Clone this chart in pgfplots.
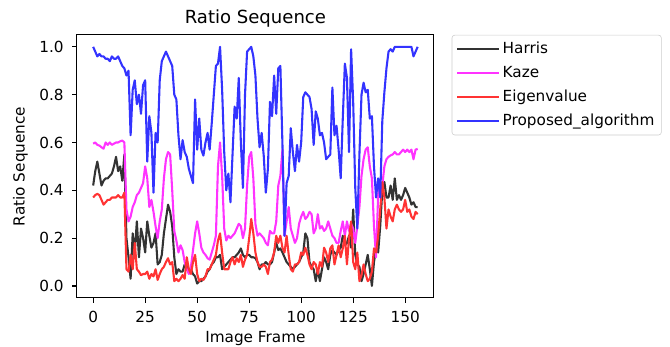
\documentclass[border=0pt]{standalone}
\usepackage{fontspec}
\setmainfont{DejaVu Sans}
\usepackage{pgfplots}
\usepackage{pgfplotstable}
\pgfplotsset{compat=1.18}
\definecolor{mplblack}{RGB}{51,51,51}
\definecolor{mplmag}{RGB}{255,51,255}
\definecolor{mplred}{RGB}{255,51,51}
\definecolor{mplblue}{RGB}{51,51,255}
\pgfplotstableread{
f h k e p
0 0.42 0.595 0.37 1.00
1 0.48 0.60 0.38 0.98
2 0.52 0.59 0.385 0.96
3 0.47 0.587 0.38 0.97
4 0.42 0.58 0.36 0.96
5 0.44 0.574 0.34 0.96
6 0.45 0.60 0.35 0.95
7 0.45 0.59 0.36 0.95
8 0.46 0.60 0.36 0.94
9 0.47 0.59 0.37 0.96
10 0.50 0.595 0.37 0.95
11 0.54 0.60 0.37 0.95
12 0.48 0.60 0.38 0.96
13 0.50 0.605 0.37 0.94
14 0.44 0.608 0.37 0.92
15 0.55 0.60 0.39 0.91
16 0.20 0.32 0.07 0.88
17 0.12 0.27 0.06 0.90
18 0.03 0.29 0.13 0.63
19 0.22 0.33 0.07 0.82
20 0.14 0.35 0.18 0.86
21 0.27 0.38 0.07 0.76
22 0.12 0.39 0.06 0.80
23 0.24 0.41 0.045 0.72
24 0.20 0.43 0.05 0.84
25 0.14 0.50 0.05 0.86
26 0.27 0.45 0.06 0.52
27 0.21 0.33 0.03 0.71
28 0.16 0.36 0.05 0.64
29 0.18 0.31 0.04 0.39
30 0.22 0.25 0.07 0.64
31 0.09 0.20 0.025 0.60
32 0.10 0.27 0.05 0.86
33 0.13 0.32 0.07 0.94
34 0.22 0.45 0.08 0.96
35 0.28 0.53 0.10 0.98
36 0.34 0.56 0.116 0.96
37 0.31 0.55 0.09 0.94
38 0.25 0.40 0.10 0.92
39 0.12 0.23 0.02 0.80
40 0.05 0.19 0.03 0.78
41 0.07 0.14 0.02 0.63
42 0.06 0.17 0.03 0.53
43 0.06 0.15 0.046 0.61
44 0.09 0.10 0.03 0.56
45 0.08 0.07 0.12 0.54
46 0.07 0.05 0.07 0.49
47 0.07 0.08 0.05 0.46
48 0.05 0.15 0.10 0.43
49 0.04 0.22 0.13 0.78
50 0.01 0.27 0.05 0.57
51 0.02 0.22 0.02 0.70
52 0.02 0.16 0.03 0.57
53 0.03 0.14 0.025 0.545
54 0.04 0.13 0.04 0.60
55 0.06 0.116 0.07 0.64
56 0.07 0.11 0.07 0.57
57 0.09 0.14 0.09 0.68
58 0.10 0.17 0.11 0.80
59 0.12 0.21 0.13 0.92
60 0.12 0.50 0.19 0.93
61 0.13 0.60 0.22 1.00
62 0.07 0.46 0.14 0.82
63 0.08 0.24 0.07 0.56
64 0.09 0.19 0.07 0.40
65 0.10 0.21 0.07 0.47
66 0.11 0.20 0.10 0.35
67 0.12 0.21 0.12 0.55
68 0.12 0.22 0.09 0.75
69 0.13 0.24 0.116 0.70
70 0.14 0.26 0.10 0.87
71 0.157 0.25 0.13 0.60
72 0.13 0.20 0.08 0.41
73 0.12 0.24 0.11 0.80
74 0.13 0.42 0.13 0.98
75 0.13 0.54 0.20 0.99
76 0.12 0.56 0.28 1.00
77 0.12 0.45 0.22 0.96
78 0.116 0.26 0.14 0.88
79 0.10 0.21 0.10 0.70
80 0.07 0.22 0.08 0.58
81 0.09 0.21 0.08 0.64
82 0.09 0.20 0.09 0.545
83 0.10 0.18 0.08 0.39
84 0.09 0.17 0.05 0.49
85 0.09 0.23 0.10 0.77
86 0.10 0.22 0.11 0.71
87 0.14 0.22 0.14 0.88
88 0.18 0.27 0.21 0.72
89 0.15 0.42 0.18 0.91
90 0.157 0.46 0.21 0.92
91 0.14 0.57 0.16 0.59
92 0.12 0.21 0.14 0.21
93 0.10 0.27 0.21 0.43
94 0.09 0.33 0.13 0.46
95 0.08 0.24 0.07 0.66
96 0.07 0.21 0.06 0.56
97 0.08 0.18 0.09 0.48
98 0.09 0.20 0.09 0.59
99 0.10 0.26 0.10 0.52
100 0.12 0.29 0.14 0.60
101 0.14 0.31 0.13 0.79
102 0.22 0.28 0.16 0.81
103 0.20 0.29 0.13 0.80
104 0.10 0.31 0.09 0.79
105 0.08 0.30 0.07 0.74
106 0.07 0.22 0.10 0.59
107 0.02 0.24 0.09 0.73
108 0.07 0.30 0.05 0.70
109 0.02 0.24 0.10 0.63
110 0.07 0.25 0.08 0.64
111 0.12 0.23 0.16 0.60
112 0.10 0.24 0.14 0.53
113 0.07 0.27 0.10 0.54
114 0.13 0.24 0.157 0.55
115 0.15 0.21 0.17 0.83
116 0.14 0.20 0.09 0.63
117 0.13 0.18 0.13 0.67
118 0.15 0.18 0.17 0.57
119 0.16 0.23 0.12 0.45
120 0.21 0.27 0.157 0.70
121 0.17 0.21 0.21 0.93
122 0.18 0.27 0.09 0.87
123 0.21 0.23 0.20 0.56
124 0.16 0.26 0.27 0.99
125 0.32 0.24 0.10 0.77
126 0.13 0.18 0.07 0.41
127 0.09 0.25 0.14 0.24
128 0.08 0.33 0.02 0.55
129 0.02 0.46 0.046 0.80
130 0.05 0.53 0.09 0.85
131 0.09 0.57 0.05 0.81
132 0.13 0.58 0.02 0.82
133 0.07 0.50 0.03 0.70
134 0.00 0.45 0.06 0.71
135 0.10 0.25 0.157 0.50
136 0.157 0.12 0.14 0.37
137 0.14 0.38 0.21 0.45
138 0.25 0.43 0.32 0.37
139 0.40 0.42 0.435 0.69
140 0.435 0.50 0.37 0.81
141 0.37 0.53 0.24 0.91
142 0.37 0.54 0.32 0.98
143 0.42 0.546 0.29 0.99
144 0.36 0.55 0.27 0.98
145 0.45 0.56 0.32 1.00
146 0.36 0.55 0.34 1.00
147 0.38 0.55 0.32 1.00
148 0.36 0.56 0.31 1.00
149 0.38 0.57 0.32 1.00
150 0.41 0.56 0.36 1.00
151 0.39 0.57 0.31 1.00
152 0.37 0.56 0.32 1.00
153 0.34 0.57 0.29 1.00
154 0.35 0.53 0.28 0.96
155 0.33 0.57 0.31 0.98
156 0.33 0.573 0.30 1.00
}\datatable
\begin{document}
\begin{tikzpicture}
\useasboundingbox (0,0) rectangle (482.4pt,249.8pt);
\begin{axis}[
  at={(55.4pt,35.3pt)}, anchor=south west,
  scale only axis, width=257pt, height=189.4pt,
  xmin=-7.8, xmax=163.8, ymin=-0.05, ymax=1.05,
  xtick={0,25,50,75,100,125,150},
  ytick={0,0.2,0.4,0.6,0.8,1.0},
  yticklabel style={xshift=-2.5pt, /pgf/number format/.cd, fixed, fixed zerofill, precision=1},
  /pgf/number format/assume math mode=true,
  tick align=outside, major tick length=3.5pt,
  tick style={line width=0.8pt, black},
  xtick pos=bottom, ytick pos=left,
  axis line style={line width=0.8pt},
  ticklabel style={font=\fontsize{11}{13}\selectfont},
  xticklabel style={yshift=-2.5pt},
  label style={font=\fontsize{11}{13}\selectfont},
  title style={font=\fontsize{13}{15}\selectfont, yshift=-4pt},
  title={Ratio Sequence},
  xlabel={Image Frame}, ylabel={Ratio Sequence},
  xlabel style={yshift=0.5pt},
  ylabel style={yshift=1.5pt},
  legend style={at={(1.05,1)}, anchor=north west, draw=black!20, rounded corners=2pt,
    font=\fontsize{11}{13}\selectfont, row sep=3.6pt, inner xsep=3pt, inner ysep=3pt},
  legend cell align=left,
  legend image code/.code={\draw[#1] (0pt,0pt) -- (25pt,0pt); \path (0pt,0pt) -- (30pt,0pt);},
]
\addplot[mplblack, line width=1.5pt, line join=round] table[x=f,y=h] {\datatable};
\addlegendentry{Harris}
\addplot[mplmag, line width=1.5pt, line join=round] table[x=f,y=k] {\datatable};
\addlegendentry{Kaze}
\addplot[mplred, line width=1.5pt, line join=round] table[x=f,y=e] {\datatable};
\addlegendentry{Eigenvalue}
\addplot[mplblue, line width=1.5pt, line join=round] table[x=f,y=p] {\datatable};
\addlegendentry{Proposed\_algorithm}
\end{axis}
\end{tikzpicture}
\end{document}
